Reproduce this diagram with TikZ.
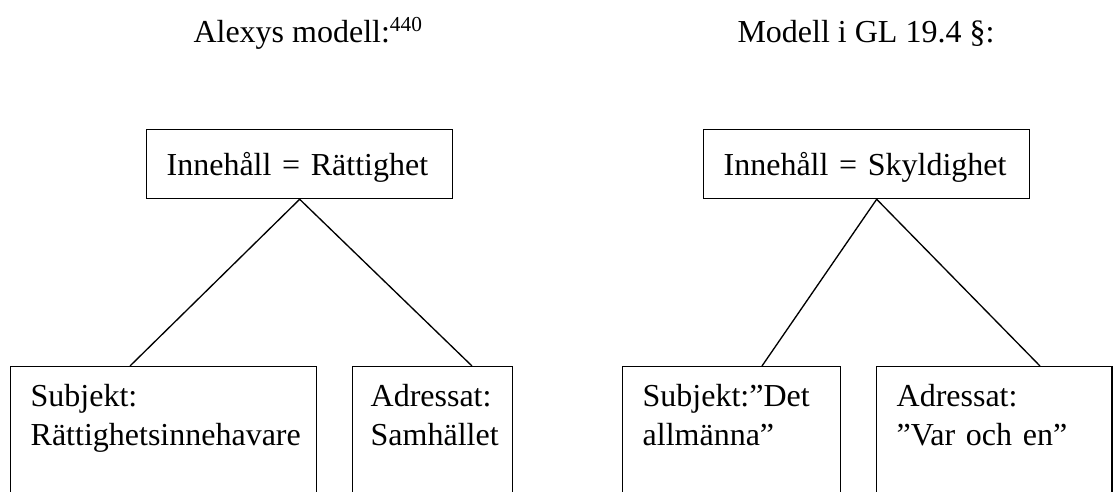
\documentclass[tikz,border=0pt]{standalone}
\usepackage{fontspec}
\setmainfont{Liberation Serif}
\tikzset{
  topbox/.style={draw, line width=0.5pt, anchor=north west, align=left,
    inner xsep=7.5pt, inner ysep=0pt, text height=17.25pt, text depth=8.6pt},
  lowbox/.style={draw, line width=0.5pt, anchor=north west, align=left,
    inner xsep=7.5pt, inner ysep=0pt, text height=15pt, text depth=60pt},
  title/.style={anchor=base west, inner sep=0pt}
}
\begin{document}
\begin{tikzpicture}[x=0.375pt, y=-0.375pt, font=\fontsize{12}{14.5}\selectfont]
\clip (0,0) rectangle (1114,492);

% Alexys modell
\node[title] (titel1) at (193,43) {Alexys modell:\textsuperscript{440}};
\node[topbox, text width=99.75pt] (innehall1) at (146,129) {Innehåll = Rättighet};
\node[lowbox, text width=99.75pt] (subjekt1) at (10,366) {Subjekt:\\Rättighetsinnehavare};
\node[lowbox, text width=46.5pt, inner xsep=6.75pt] (adressat1) at (352,366) {Adressat:\\Samhället};
\draw[line width=0.5pt] (innehall1.south) -- ([xshift=45pt]subjekt1.north west);
\draw[line width=0.5pt] (innehall1.south) -- ([xshift=45pt]adressat1.north west);

% Modell i GL 19.4 §
\node[title] (titel2) at (737,43) {Modell i GL 19.4 §:};
\node[topbox, text width=107.25pt] (innehall2) at (703,129) {Innehåll = Skyldighet};
\node[lowbox, text width=66.75pt] (subjekt2) at (622,366) {Subjekt:”Det\\allmänna”};
\node[lowbox, text width=73.25pt] (adressat2) at (876,366) {Adressat:\\”Var och en”};
\draw[line width=0.5pt] ([xshift=3.75pt]innehall2.south) -- ([xshift=52.5pt]subjekt2.north west);
\draw[line width=0.5pt] ([xshift=3.75pt]innehall2.south) -- ([xshift=61.5pt]adressat2.north west);
\end{tikzpicture}
\end{document}
